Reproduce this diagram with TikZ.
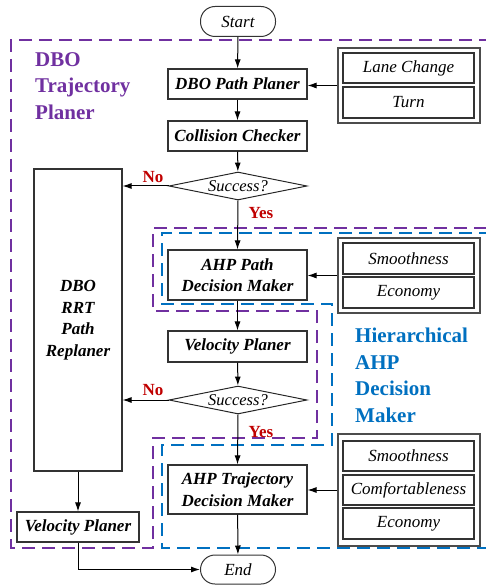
\documentclass[tikz,border=0pt]{standalone}
\usepackage{fontspec}
\setmainfont{Liberation Serif}
\usetikzlibrary{arrows.meta,shapes.geometric}
\definecolor{dbopurple}{RGB}{112,48,160}
\definecolor{ahpblue}{RGB}{0,112,192}
\definecolor{nored}{RGB}{192,0,0}
\begin{document}
\begin{tikzpicture}[x=1pt,y=-1pt,
 proc/.style={draw=black!80, line width=1.1pt, minimum width=139pt, minimum height=30pt, inner sep=0pt, align=center, font=\fontsize{17}{21.5}\selectfont\bfseries\itshape},
 term/.style={draw=black!80, line width=1pt, rounded corners=14.5pt, minimum width=75pt, minimum height=30pt, inner sep=0pt, font=\fontsize{17}{20}\selectfont\itshape},
 opt/.style={draw=black!80, line width=1.1pt, minimum width=131pt, minimum height=30pt, inner sep=0pt, font=\fontsize{17}{20}\selectfont\itshape},
 frame/.style={draw=black!70, line width=1.1pt, minimum width=142pt, inner sep=0pt},
 dec/.style={diamond, draw=black!85, line width=1pt, minimum width=138pt, minimum height=28pt, inner sep=0pt},
 dectext/.style={font=\fontsize{16.5}{20}\selectfont\itshape, inner sep=0pt},
 arr/.style={-{Latex[length=9pt,width=6pt]}, line width=1pt},
 lbl/.style={text=nored, font=\fontsize{17}{20}\selectfont\bfseries, inner sep=0pt},
 purpdash/.style={draw=dbopurple, line width=1.6pt, dash pattern=on 13pt off 7pt},
 bluedash/.style={draw=ahpblue, line width=1.6pt, dash pattern=on 13pt off 7pt},
 title/.style={anchor=north west, inner sep=0pt, align=left, font=\fontsize{21}{26.5}\selectfont\bfseries},
]
\useasboundingbox (0,0) rectangle (485,585);

% dashed regions
\draw[purpdash] (492,40) -- (11,40) -- (11,548) -- (153,548) -- (153,438) -- (317,438) -- (317,311) -- (153,311) -- (153,228) -- (492,228);
\draw[bluedash] (492,233) -- (162,233) -- (162,304) -- (332,304) -- (332,445) -- (162,445) -- (162,548) -- (492,548);

% titles
\node[title, text=dbopurple] (t1) at (35,52) {DBO\\Trajectory\\Planer};
\node[title, text=ahpblue] (t2) at (355,328) {Hierarchical\\AHP\\Decision\\Maker};

% main flow
\node[term] (start) at (238,21.5) {Start};
\node[proc] (p1) at (237.5,84) {DBO Path Planer};
\node[proc] (p2) at (237.5,136) {Collision Checker};
\node[dec] (d1) at (238,186) {};
\node[dectext] (d1t) at (238,186) {Success?};
\node[proc, minimum width=88pt, minimum height=302pt] (rr) at (78,320) {DBO\\RRT\\Path\\Replaner};
\node[proc, minimum height=50pt] (ahp1) at (237.5,275) {AHP Path\\Decision Maker};
\node[proc, minimum height=31pt] (vp) at (237.5,346.5) {Velocity Planer};
\node[dec] (d2) at (238,400) {};
\node[dectext] (d2t) at (238,400) {Success?};
\node[proc, minimum height=49pt] (ahp2) at (237.5,489.5) {AHP Trajectory\\Decision Maker};
\node[proc, minimum width=122pt] (vp2) at (78,527) {Velocity Planer};
\node[term, minimum height=29pt] (end) at (238,569.5) {End};

% option frames
\node[frame, minimum height=75pt] (f1) at (409,85.5) {};
\node[opt] (lane) at (408.5,68) {Lane Change};
\node[opt, minimum height=31pt] (turn) at (408.5,102.5) {Turn};

\node[frame, minimum height=75pt] (f2) at (409,275.5) {};
\node[opt, minimum height=31pt] (sm1) at (408.5,258.5) {Smoothness};
\node[opt, minimum height=31pt] (ec1) at (408.5,292.5) {Economy};

\node[frame, minimum height=112pt] (f3) at (409,490) {};
\node[opt] (sm2) at (408.5,456) {Smoothness};
\node[opt] (cf) at (408.5,490) {Comfortableness};
\node[opt, minimum height=31pt] (ec2) at (408.5,523.5) {Economy};

% connectors
\draw[arr] (start) -- (p1);
\draw[arr] (p1) -- (p2);
\draw[arr] (p2) -- (d1);
\draw[arr] (f1.west) -- (f1.west -| p1.east);
\draw[arr] (d1.west) -- (d1.west -| rr.east);
\node[lbl] (no1) at (153,177) {No};
\draw[arr] (d1.south) -- (ahp1.north);
\node[lbl] (yes1) at (261,213) {Yes};
\draw[arr] (f2.west) -- (f2.west -| ahp1.east);
\draw[arr] (ahp1) -- (vp);
\draw[arr] (vp) -- (d2);
\draw[arr] (d2.west) -- (d2.west -| rr.east);
\node[lbl] (no2) at (153,390) {No};
\draw[arr] (d2.south) -- (ahp2.north);
\node[lbl] (yes2) at (261,432) {Yes};
\draw[arr] (f3.west) -- (f3.west -| ahp2.east);
\draw[arr] (ahp2) -- (end);
\draw[arr] (rr) -- (vp2);
\draw[arr] (vp2.south) |- (end.west);
\end{tikzpicture}
\end{document}
